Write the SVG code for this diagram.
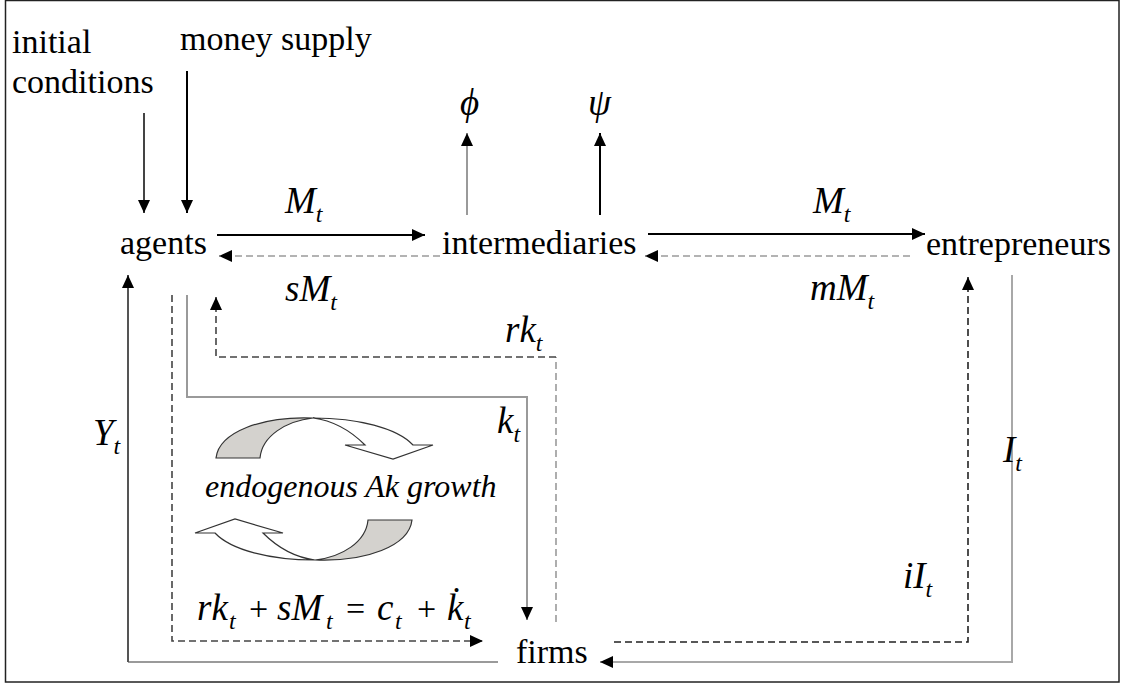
<svg xmlns="http://www.w3.org/2000/svg" width="1123" height="685" viewBox="0 0 1123 685">
<style>
.t{font-family:"Liberation Serif",serif;font-size:34px;fill:#000}
.m{font-family:"Liberation Serif",serif;font-size:37px;font-style:italic;fill:#000}
.sub{font-size:24px}
.up{font-style:normal;font-size:34px}
.e{font-family:"Liberation Serif",serif;font-size:32px;font-style:italic;fill:#000}
.ln{fill:none;stroke-width:2}
.blk{stroke:#000}
.gry{stroke:#9a9a9a}
.dk{stroke:#444}
.dsh{stroke-dasharray:7 4;stroke-width:1.6}
.gfill{fill:#d4d2ce;stroke:#333;stroke-width:1.2}
.wfill{fill:#fff;stroke:#333;stroke-width:1.2}
</style>
<defs>
<marker id="ah" markerUnits="userSpaceOnUse" markerWidth="14" markerHeight="12" refX="13" refY="6" orient="auto">
<path d="M0,0 L13,6 L0,12 Z" fill="#000"/>
</marker>
</defs>
<rect x="5.5" y="0.5" width="1113.5" height="681.5" fill="#fff" stroke="#222" stroke-width="1.5"/>

<g id="connectors">
<line x1="144" y1="113" x2="144" y2="213" class="ln dk" stroke-width="1.6" marker-end="url(#ah)"/>
<line x1="187" y1="71" x2="187" y2="213" class="ln blk" marker-end="url(#ah)"/>
<line x1="217" y1="235" x2="425" y2="235" class="ln blk" marker-end="url(#ah)"/>
<line x1="440" y1="256" x2="219" y2="256" class="ln gry dsh" stroke-width="2" marker-end="url(#ah)"/>
<line x1="648" y1="234" x2="925" y2="234" class="ln blk" marker-end="url(#ah)"/>
<line x1="910" y1="256" x2="645" y2="256" class="ln gry dsh" stroke-width="2" marker-end="url(#ah)"/>
<line x1="467" y1="215" x2="467" y2="133" class="ln gry" marker-end="url(#ah)"/>
<line x1="600" y1="215" x2="600" y2="133" class="ln blk" marker-end="url(#ah)"/>
<line x1="128" y1="662" x2="498" y2="662" class="ln gry"/>
<line x1="128" y1="662" x2="128" y2="275" class="ln" stroke="#555" marker-end="url(#ah)"/>
<path d="M172,295 V641 H483" class="ln dk dsh" marker-end="url(#ah)"/>
<path d="M187,295 V397 H527 V620" class="ln gry" marker-end="url(#ah)"/>
<line x1="556" y1="622" x2="556" y2="357" class="ln gry dsh" stroke-width="2"/>
<path d="M556,357 H216 V297" class="ln dk dsh" marker-end="url(#ah)"/>
<path d="M614,642 H968 V277" class="ln dsh" stroke="#222" marker-end="url(#ah)"/>
<path d="M1012,275 V662 H600" class="ln" stroke="#a8a8a8" stroke-width="2.5" marker-end="url(#ah)"/>

<text class="m" x="285" y="213">M<tspan class="sub" dy="9">t</tspan></text>
<text class="m" x="285" y="301">sM<tspan class="sub" dy="9">t</tspan></text>
<text class="m" x="813" y="213">M<tspan class="sub" dy="9">t</tspan></text>
<text class="m" x="810" y="300">mM<tspan class="sub" dy="9">t</tspan></text>
<text class="m" x="505" y="342">rk<tspan class="sub" dy="9">t</tspan></text>
<text class="m" x="497" y="433">k<tspan class="sub" dy="9">t</tspan></text>
<text class="m" x="93" y="445">Y<tspan class="sub" dy="9">t</tspan></text>
<text class="m" x="1003" y="462">I<tspan class="sub" dy="9">t</tspan></text>
<text class="m" x="903" y="588">iI<tspan class="sub" dy="9">t</tspan></text>
</g>

<g id="initial-conditions"><text class="t" x="12" y="53">initial</text><text class="t" x="12" y="93">conditions</text></g>
<g id="money-supply"><text class="t" x="180" y="50">money supply</text></g>
<g id="agents"><text class="t" x="120" y="254">agents</text></g>
<g id="intermediaries"><text class="t" x="442" y="254">intermediaries</text></g>
<g id="entrepreneurs"><text class="t" x="926" y="255">entrepreneurs</text></g>
<g id="firms"><text class="t" x="516" y="663">firms</text></g>
<g id="phi"><text class="m" x="460" y="115">ϕ</text></g>
<g id="psi"><text class="m" x="588" y="115">ψ</text></g>

<g id="growth">
<path class="gfill" d="M216,458 C219,432 262,416 313,418 C286,421 262,436 260,458 Z"/>
<path class="wfill" d="M313,418 C358,418 397,428 413,445 L433,445 L393,459 L345,445 L365,445 C352,432 336,421 313,418 Z"/>
<g transform="rotate(180 314 489)">
<path class="gfill" d="M216,458 C219,432 262,416 313,418 C286,421 262,436 260,458 Z"/>
<path class="wfill" d="M313,418 C358,418 397,428 413,445 L433,445 L393,459 L345,445 L365,445 C352,432 336,421 313,418 Z"/>
</g>
<text class="e" x="205" y="497">endogenous Ak growth</text>
</g>

<g id="equation">
<text class="m" y="620"><tspan x="197">rk</tspan><tspan class="sub" x="229" dy="9">t</tspan><tspan class="up" x="249" dy="-9">+</tspan><tspan x="277">sM</tspan><tspan class="sub" x="326" dy="9">t</tspan><tspan class="up" x="346" dy="-9">=</tspan><tspan x="377">c</tspan><tspan class="sub" x="395" dy="9">t</tspan><tspan class="up" x="417" dy="-9">+</tspan><tspan x="447">k̇</tspan><tspan class="sub" x="464" dy="9">t</tspan></text>
</g>
</svg>
